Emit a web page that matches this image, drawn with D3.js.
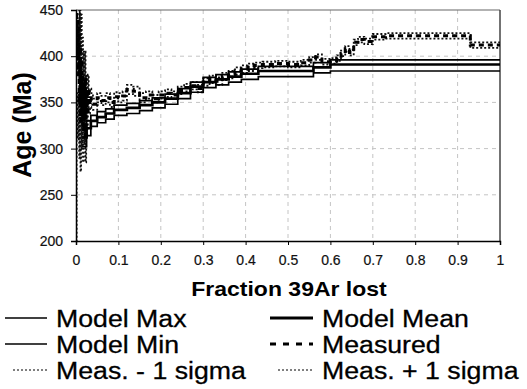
<!DOCTYPE html>
<html><head><meta charset="utf-8">
<script src="https://cdn.jsdelivr.net/npm/d3@7"></script>
<style>
html,body{margin:0;padding:0;background:#fff;}
svg{display:block;font-family:"Liberation Sans",Arial,sans-serif;}
</style></head>
<body>
<svg id="chart" width="527" height="389"></svg>
<script>
// ---- data ----
const xTicks = [0,0.1,0.2,0.3,0.4,0.5,0.6,0.7,0.8,0.9,1];
const xTickLabels = ["0","0.1","0.2","0.3","0.4","0.5","0.6","0.7","0.8","0.9","1"];
const yTicks = [200,250,300,350,400,450];

const modelFrac = [0.015,0.025,0.035,0.05,0.07,0.09,0.12,0.15,0.18,0.21,0.24,0.27,0.30,0.33,0.36,0.39,0.43,0.56,0.60];
const modelMean = [312,322,330,334,338,342,344,347,350,354,360,367,372,375,378,381,384,388,391];
const modelMax  = [320,330,336,340,343,347,349,352,355,359,365,372,377,380,383,386,389,393,396];
const modelMin  = [302,314,324,328,332,336,338,341,344,348,354,361,366,369,372,375,378,382,384];

const measFrac = [0,0.0015,0.003,0.0045,0.006,0.0075,0.009,0.0105,0.012,0.0135,0.015,0.0165,0.018,0.0195,0.021,0.0225,0.024,0.026,0.028,0.030,0.033,0.036,0.040,0.050,0.060,0.070,0.080,0.090,0.100,0.110,0.120,0.135,0.150,0.165,0.180,0.195,0.210,0.225,0.240,0.255,0.270,0.285,0.300,0.315,0.330,0.345,0.360,0.375,0.390,0.405,0.420,0.440,0.470,0.500,0.530,0.550,0.565,0.580,0.600,0.615,0.625,0.635,0.645,0.655,0.665,0.680,0.700,0.730,0.930];
const measAge  = [445,400,440,380,430,350,410,330,395,345,380,320,370,335,375,310,360,340,365,350,355,352,348,355,352,355,350,356,355,357,364,362,355,358,354,358,360,358,363,366,368,365,372,375,373,378,380,384,386,388,390,391,392,391,393,396,399,394,395,398,403,408,404,415,418,416,421,422,412];
const measSigma= [245,90,80,70,70,60,60,55,50,45,40,35,35,30,30,25,20,18,15,12,10,8,6,5,5,5,5,5,5,5,5,5,5,4,4,4,4,4,4,4,4,4,4,4,4,4,4,4,4,4,3,3,3,3,3,3,3,3,3,3,3,3,3,3,3,3,3,3,3];

const legendItems = [
  {label:"Model Max", col:0, row:0, style:"thin"},
  {label:"Model Mean", col:1, row:0, style:"thick"},
  {label:"Model Min", col:0, row:1, style:"thin"},
  {label:"Measured", col:1, row:1, style:"dash"},
  {label:"Meas. - 1 sigma", col:0, row:2, style:"dot"},
  {label:"Meas. + 1 sigma", col:1, row:2, style:"dot"}
];

// ---- layout ----
const svg = d3.select("#chart");
const L = 76, R = 500, T = 10, B = 241;
const x = d3.scaleLinear().domain([0,1]).range([L,R]);
const y = d3.scaleLinear().domain([200,450]).range([B,T]);

// grid
const grid = svg.append("g").attr("stroke","#c4c4c4").attr("stroke-width",1).attr("stroke-dasharray","4,4");
xTicks.slice(1,-1).forEach(v=>grid.append("line").attr("x1",x(v)).attr("x2",x(v)).attr("y1",T).attr("y2",B));
yTicks.slice(1,-1).forEach(v=>grid.append("line").attr("x1",L).attr("x2",R).attr("y1",y(v)).attr("y2",y(v)));

// border top/right
svg.append("line").attr("x1",L).attr("x2",R).attr("y1",T).attr("y2",T).attr("stroke","#666").attr("stroke-width",1.2);
svg.append("line").attr("x1",R).attr("x2",R).attr("y1",T).attr("y2",B).attr("stroke","#444").attr("stroke-width",1.5);

// clip
svg.append("clipPath").attr("id","clip").append("rect").attr("x",L).attr("y",T).attr("width",R-L).attr("height",B-T);
const plot = svg.append("g").attr("clip-path","url(#clip)");

function stepData(fr, vals){
  const pts = fr.map((f,i)=>[f,vals[i]]);
  pts.push([1, vals[vals.length-1]]);
  return pts;
}
const line = d3.line().x(d=>x(d[0])).y(d=>y(d[1])).curve(d3.curveStepAfter);

const minus = measAge.map((v,i)=>v-measSigma[i]);
const plus = measAge.map((v,i)=>v+measSigma[i]);

plot.append("path").datum(stepData(measFrac,minus)).attr("d",line).attr("fill","none").attr("stroke","#111").attr("stroke-width",1.8).attr("stroke-dasharray","2,2");
plot.append("path").datum(stepData(measFrac,plus)).attr("d",line).attr("fill","none").attr("stroke","#111").attr("stroke-width",1.8).attr("stroke-dasharray","2,2");
plot.append("path").datum(stepData(modelFrac,modelMax)).attr("d",line).attr("fill","none").attr("stroke","#000").attr("stroke-width",1.7);
plot.append("path").datum(stepData(modelFrac,modelMin)).attr("d",line).attr("fill","none").attr("stroke","#000").attr("stroke-width",1.7);
plot.append("path").datum(stepData(modelFrac,modelMean)).attr("d",line).attr("fill","none").attr("stroke","#000").attr("stroke-width",2.7);
plot.append("path").datum(stepData(measFrac,measAge)).attr("d",line).attr("fill","none").attr("stroke","#000").attr("stroke-width",3).attr("stroke-dasharray","5,4");

// axes
const xAxis = d3.axisBottom(x).tickValues(xTicks).tickFormat((d,i)=>xTickLabels[i]).tickSize(4).tickPadding(10);
const gx = svg.append("g").attr("transform",`translate(0,${B})`).call(xAxis);
gx.select(".domain").attr("stroke","#000").attr("stroke-width",1.5);
gx.selectAll("text").attr("font-size",14).attr("font-family","Liberation Sans, Arial, sans-serif").attr("fill","#111").attr("stroke","#111").attr("stroke-width",0.2);

const yAxis = d3.axisLeft(y).tickValues(yTicks).tickSize(5).tickPadding(8);
const gy = svg.append("g").attr("transform",`translate(${L},0)`).call(yAxis);
gy.select(".domain").attr("stroke","#000").attr("stroke-width",1.5);
gy.selectAll("text").attr("font-size",14).attr("font-family","Liberation Sans, Arial, sans-serif").attr("fill","#111").attr("stroke","#111").attr("stroke-width",0.2);

// axis titles
svg.append("text").attr("transform","translate(289,296) scale(1.15,1)").attr("text-anchor","middle")
  .attr("font-weight","bold").attr("font-size",20).text("Fraction 39Ar lost");
svg.append("text").attr("transform","translate(31,125) rotate(-90)").attr("text-anchor","middle")
  .attr("font-weight","bold").attr("font-size",25).text("Age (Ma)");

// legend
const colX = [[5,47,56],[270,313,322]];
const rowY = [327,353,379];
const lg = svg.append("g");
legendItems.forEach(it=>{
  const [x1,x2,tx] = colX[it.col];
  const by = rowY[it.row];
  const ly = by - 9;
  let sx1 = x1;
  const l = lg.append("line").attr("y1",ly).attr("y2",ly).attr("stroke","#000");
  if(it.style==="thin"){ l.attr("stroke-width",1.6); }
  if(it.style==="thick"){ l.attr("stroke-width",3); }
  if(it.style==="dash"){ l.attr("stroke-width",3).attr("stroke-dasharray","6,7"); }
  if(it.style==="dot"){ l.attr("stroke-width",1.2).attr("stroke-dasharray","2,2"); sx1 = x1+8; }
  l.attr("x1",sx1).attr("x2",x2);
  lg.append("text").attr("transform",`translate(${tx},${by}) scale(1.09,1)`).attr("font-size",24.5)
    .attr("fill","#000").attr("stroke","#000").attr("stroke-width",0.3).text(it.label);
});
</script>
</body></html>
